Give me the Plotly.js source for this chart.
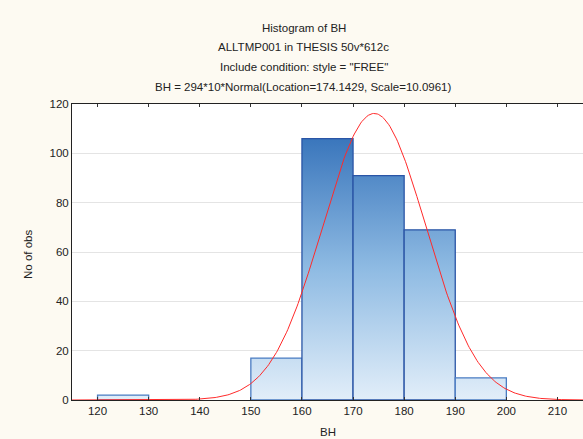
<!DOCTYPE html>
<html>
<head>
<meta charset="utf-8">
<script src="https://cdn.plot.ly/plotly-3.0.1.min.js"></script>
<style>html,body{margin:0;padding:0;background:#fdfaf2;}#chart{width:583px;height:439px;}</style>
</head>
<body>
<div id="chart"></div>
<script>
// Data
const binStarts = [120, 130, 140, 150, 160, 170, 180, 190];
const binWidth = 10;
const counts = [2, 0, 0, 17, 106, 91, 69, 9];
const xTicks = [120, 130, 140, 150, 160, 170, 180, 190, 200, 210];
const yTicks = [0, 20, 40, 60, 80, 100, 120];
const nObs = 294;
const fitLocation = 174.1429;
const fitScale = 10.0961;
const titleLines = [
  'Histogram of BH',
  'ALLTMP001 in THESIS 50v*612c',
  'Include condition: style = "FREE"',
  'BH = 294*10*Normal(Location=174.1429, Scale=10.0961)'
];

const FONT = 'Liberation Sans, Arial, sans-serif';
const maxCount = Math.max(...counts);
const traces = [];

binStarts.forEach((b, i) => {
  const c = counts[i];
  if (c <= 0) return;
  traces.push({
    type: 'scatter', mode: 'lines',
    x: [b, b, b + binWidth, b + binWidth, b],
    y: [0, c, c, 0, 0],
    fill: 'toself',
    fillgradient: {type: 'vertical', start: 0, stop: maxCount,
      colorscale: [[0, '#e2eef9'], [0.5, '#8fbbe3'], [1, '#3a76bc']]},
    line: {color: c > 50 ? '#2a55a6' : '#4a7cc2', width: 1.3},
    hoverinfo: 'skip', showlegend: false
  });
});

// Fitted normal curve from stated parameters
const cx = [], cy = [];
for (let x = 115; x <= 215.001; x += 0.25) {
  cx.push(x);
  const z = (x - fitLocation) / fitScale;
  cy.push(nObs * binWidth * Math.exp(-0.5 * z * z) / (fitScale * Math.sqrt(2 * Math.PI)));
}
traces.push({type: 'scatter', mode: 'lines', x: cx, y: cy,
  line: {color: '#ff2a2a', width: 1}, hoverinfo: 'skip', showlegend: false});

const titleY = [1.257, 1.191, 1.124, 1.058];
const annotations = titleLines.map((t, i) => ({
  text: t, xref: 'paper', yref: 'paper', x: 0.454, y: titleY[i],
  xanchor: 'center', yanchor: 'middle', showarrow: false,
  font: {family: FONT, size: 11.5, color: '#222'}
}));
annotations.push({text: 'No of obs', xref: 'paper', yref: 'paper', x: -0.086, y: 0.49,
  textangle: -90, xanchor: 'center', yanchor: 'middle', showarrow: false,
  font: {family: FONT, size: 11.5, color: '#222'}});
annotations.push({text: 'BH', xref: 'paper', yref: 'paper', x: 0.501, y: -0.108,
  xanchor: 'center', yanchor: 'middle', showarrow: false,
  font: {family: FONT, size: 11.5, color: '#222'}});

const layout = {
  width: 583, height: 439,
  margin: {l: 72, r: 0, t: 104, b: 39},
  paper_bgcolor: '#fdfaf2', plot_bgcolor: '#ffffff',
  showlegend: false,
  font: {family: FONT, size: 11, color: '#222'},
  xaxis: {range: [115, 215], tickvals: xTicks, ticktext: xTicks.map(String),
    showgrid: false, zeroline: false, showline: true, linecolor: '#222', linewidth: 1,
    mirror: 'ticks', ticks: 'inside', ticklen: 3, tickcolor: '#333',
    tickfont: {family: FONT, size: 11.5, color: '#222'}},
  yaxis: {range: [0, 120], tickvals: yTicks, ticktext: yTicks.map(String),
    showgrid: true, gridcolor: '#e4e4e4', gridwidth: 1, zeroline: false,
    showline: true, linecolor: '#222', linewidth: 1, ticks: '',
    tickfont: {family: FONT, size: 11.5, color: '#222'}},
  annotations: annotations
};

Plotly.newPlot('chart', traces, layout, {displayModeBar: false, staticPlot: true});
</script>
</body>
</html>
